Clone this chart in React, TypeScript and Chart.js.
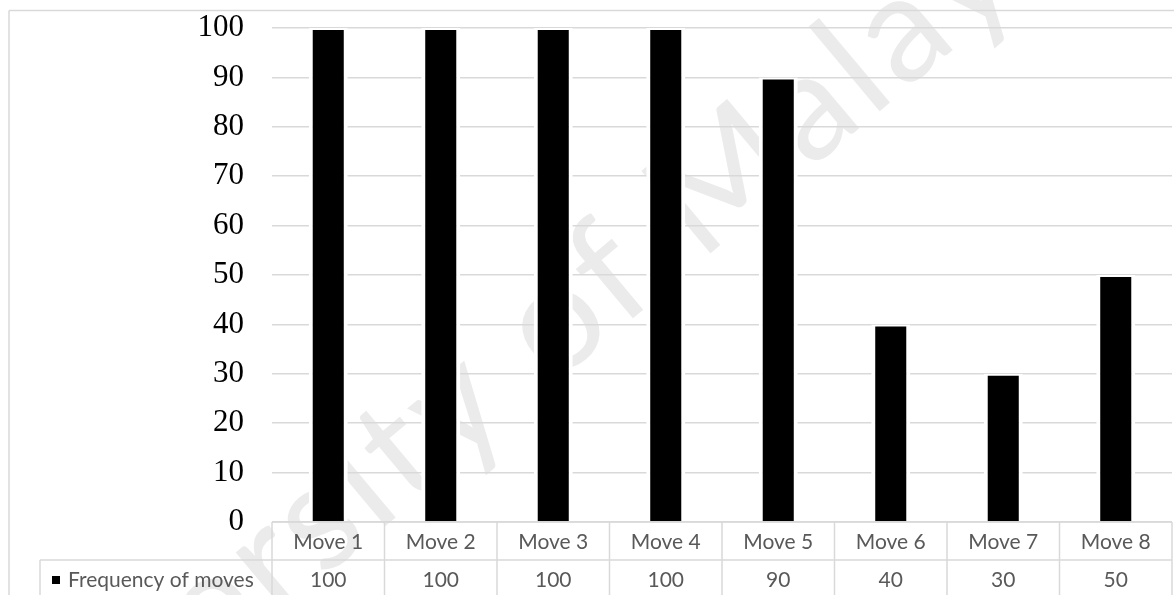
import { useEffect, useRef } from 'react';
import { Chart, registerables } from 'chart.js';

Chart.register(...registerables);

const categories = ['Move 1', 'Move 2', 'Move 3', 'Move 4', 'Move 5', 'Move 6', 'Move 7', 'Move 8'];
const seriesName = 'Frequency of moves';
const frequency = [100, 100, 100, 100, 90, 40, 30, 50];
const yMin = 0;
const yMax = 100;
const yStep = 10;
const watermarkText = 'University of Malaya';

const W = 1174;
const H = 595;

const tablePlugin = {
  id: 'dataTable',
  beforeDraw(chart: any) {
    const { ctx } = chart;
    ctx.save();
    ctx.font = '150px Lato';
    try {
      (ctx as any).letterSpacing = '6px';
    } catch (e) {
      /* ignore */
    }
    ctx.fillStyle = '#ebebeb';
    const pre = ctx.measureText('University of ').width;
    ctx.translate(700, 262);
    ctx.rotate((-40 * Math.PI) / 180);
    ctx.textBaseline = 'alphabetic';
    ctx.textAlign = 'left';
    ctx.fillText(watermarkText, -pre, 0);
    ctx.restore();
  },
  afterDraw(chart: any) {
    const { ctx, chartArea } = chart;
    const x = chart.scales.x;
    const left = chartArea.left;
    const right = chartArea.right;
    const top = chartArea.bottom;
    const rowH = 38;
    const n = categories.length;
    const colW = (right - left) / n;
    ctx.save();
    ctx.strokeStyle = '#d9d9d9';
    ctx.lineWidth = 1.5;
    const line = (x1: number, y1: number, x2: number, y2: number) => {
      ctx.beginPath();
      ctx.moveTo(x1, y1);
      ctx.lineTo(x2, y2);
      ctx.stroke();
    };
    // outer frame
    line(9, 10.5, W, 10.5);
    line(9, 10.5, 9, H);
    // table lines
    line(left, top, right, top);
    line(40, top + rowH, right, top + rowH);
    for (let i = 0; i <= n; i++) {
      const xb = x.getPixelForValue(i) - colW / 2;
      line(xb, top, xb, H);
    }
    line(40, top + rowH, 40, H);

    ctx.font = '21px Lato';
    ctx.fillStyle = '#595959';
    ctx.textAlign = 'center';
    ctx.textBaseline = 'middle';
    for (let i = 0; i < n; i++) {
      const px = x.getPixelForValue(i);
      ctx.fillText(categories[i], px, top + rowH / 2 + 1);
      ctx.fillText(String(frequency[i]), px, top + rowH * 1.5 + 1);
    }
    ctx.fillStyle = '#000';
    ctx.fillRect(52, 576, 8, 8);
    ctx.fillStyle = '#595959';
    ctx.textAlign = 'left';
    ctx.fillText(seriesName, 68, top + rowH * 1.5 + 1);
    ctx.restore();
  },
};

export default function App() {
  const ref = useRef<HTMLCanvasElement | null>(null);

  useEffect(() => {
    let chart: Chart | null = null;
    let cancelled = false;
    const make = () => {
      if (cancelled || !ref.current) return;
      chart = new Chart(ref.current, {
        type: 'bar',
        data: {
          labels: categories,
          datasets: [
            {
              label: seriesName,
              data: frequency,
              backgroundColor: '#000000',
              borderColor: '#ffffff',
              borderWidth: { top: 2, left: 4, right: 4, bottom: 0 },
              borderSkipped: 'bottom',
              barPercentage: 0.347,
              categoryPercentage: 1,
            },
          ],
        },
        options: {
          animation: false,
          responsive: false,
          devicePixelRatio: 1,
          layout: { padding: { top: 28, right: 2, left: 0, bottom: 0 } },
          plugins: {
            legend: { display: false },
            tooltip: { enabled: false },
          },
          scales: {
            x: {
              ticks: { display: false },
              grid: { display: false },
              border: { display: false },
              afterFit: (s: any) => {
                s.height = H - 522;
                s.paddingLeft = 0;
                s.paddingRight = 0;
              },
            },
            y: {
              min: yMin,
              max: yMax,
              ticks: {
                stepSize: yStep,
                padding: 28,
                color: '#000000',
                font: { family: '"Liberation Serif", "Times New Roman", serif', size: 31 },
              },
              grid: { color: '#d9d9d9', lineWidth: 1.5, drawTicks: false },
              border: { display: false },
              afterFit: (s: any) => {
                s.width = 272;
                s.paddingTop = 0;
                s.paddingBottom = 0;
              },
            },
          },
        },
        plugins: [tablePlugin],
      });
    };
    const fontsApi = (document as any).fonts;
    if (fontsApi && fontsApi.load) {
      Promise.all([
        fontsApi.load('21px Lato'),
        fontsApi.load('31px "Liberation Serif"'),
      ])
        .catch(() => null)
        .then(make);
    } else {
      make();
    }
    return () => {
      cancelled = true;
      if (chart) chart.destroy();
    };
  }, []);

  return (
    <div style={{ position: 'absolute', left: 0, top: 0, width: W, height: H, background: '#fff' }}>
      <canvas ref={ref} width={W} height={H} style={{ display: 'block', width: W, height: H }} />
    </div>
  );
}
